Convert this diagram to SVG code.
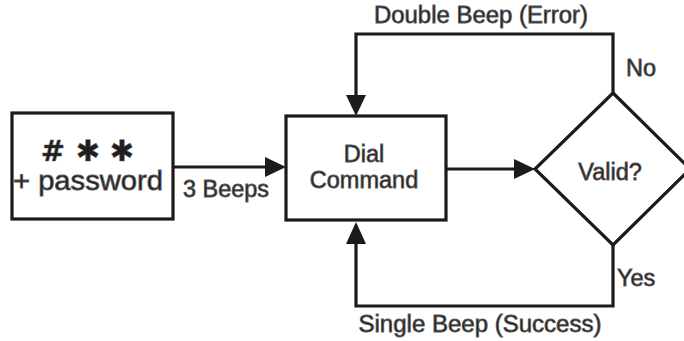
<svg xmlns="http://www.w3.org/2000/svg" width="684" height="341" viewBox="0 0 684 341">
<defs>
<style>
.shape{fill:#fff;stroke:#1c1a1a;stroke-width:3.2}
.line{fill:none;stroke:#1c1a1a;stroke-width:3.2}
.head{fill:#1c1a1a;stroke:none}
text{font-family:"Liberation Sans",Arial,sans-serif;fill:#1f1d1d;stroke:#5a5a5a;stroke-width:0.8}
.lbl{font-size:23.5px}
.sym{font-family:"DejaVu Sans",sans-serif;font-weight:bold;font-size:29px;text-anchor:middle;stroke-width:0.5}
</style>
</defs>
<g id="connectors">
<line class="line" x1="173" y1="167" x2="268" y2="167"/>
<polygon class="head" points="286,167 265,157 265,177"/>
<line class="line" x1="446" y1="169" x2="516" y2="169"/>
<polygon class="head" points="535,169 514,159 514,179"/>
<polyline class="line" points="613,93 613,34 356,34 356,96"/>
<polygon class="head" points="356,116 346,95 366,95"/>
<polyline class="line" points="613,245 613,306 356,306 356,242"/>
<polygon class="head" points="356,222 346,244 366,244"/>
<text class="lbl" x="481" y="23" text-anchor="middle" textLength="214" lengthAdjust="spacingAndGlyphs">Double Beep (Error)</text>
<text class="lbl" x="480" y="332" text-anchor="middle" textLength="243" lengthAdjust="spacingAndGlyphs">Single Beep (Success)</text>
<text class="lbl" x="626" y="76">No</text>
<text class="lbl" x="617" y="286">Yes</text>
<text class="lbl" x="183" y="197" textLength="86" lengthAdjust="spacingAndGlyphs">3 Beeps</text>
</g>
<g id="input">
<rect class="shape" x="12" y="113" width="161" height="106"/>
<text class="sym" y="161"><tspan x="53">#</tspan><tspan x="88">✱</tspan><tspan x="122">✱</tspan></text>
<text x="13" y="190" font-size="28" textLength="150" lengthAdjust="spacingAndGlyphs">+ password</text>
</g>
<g id="dial">
<rect class="shape" x="286" y="116" width="160" height="104"/>
<text class="lbl" x="364" y="162" text-anchor="middle">Dial</text>
<text class="lbl" x="364" y="188" text-anchor="middle">Command</text>
</g>
<g id="valid">
<polygon class="shape" points="613,93 690,169 613,245 535,169"/>
<text class="lbl" x="610" y="180" text-anchor="middle">Valid?</text>
</g>
</svg>
